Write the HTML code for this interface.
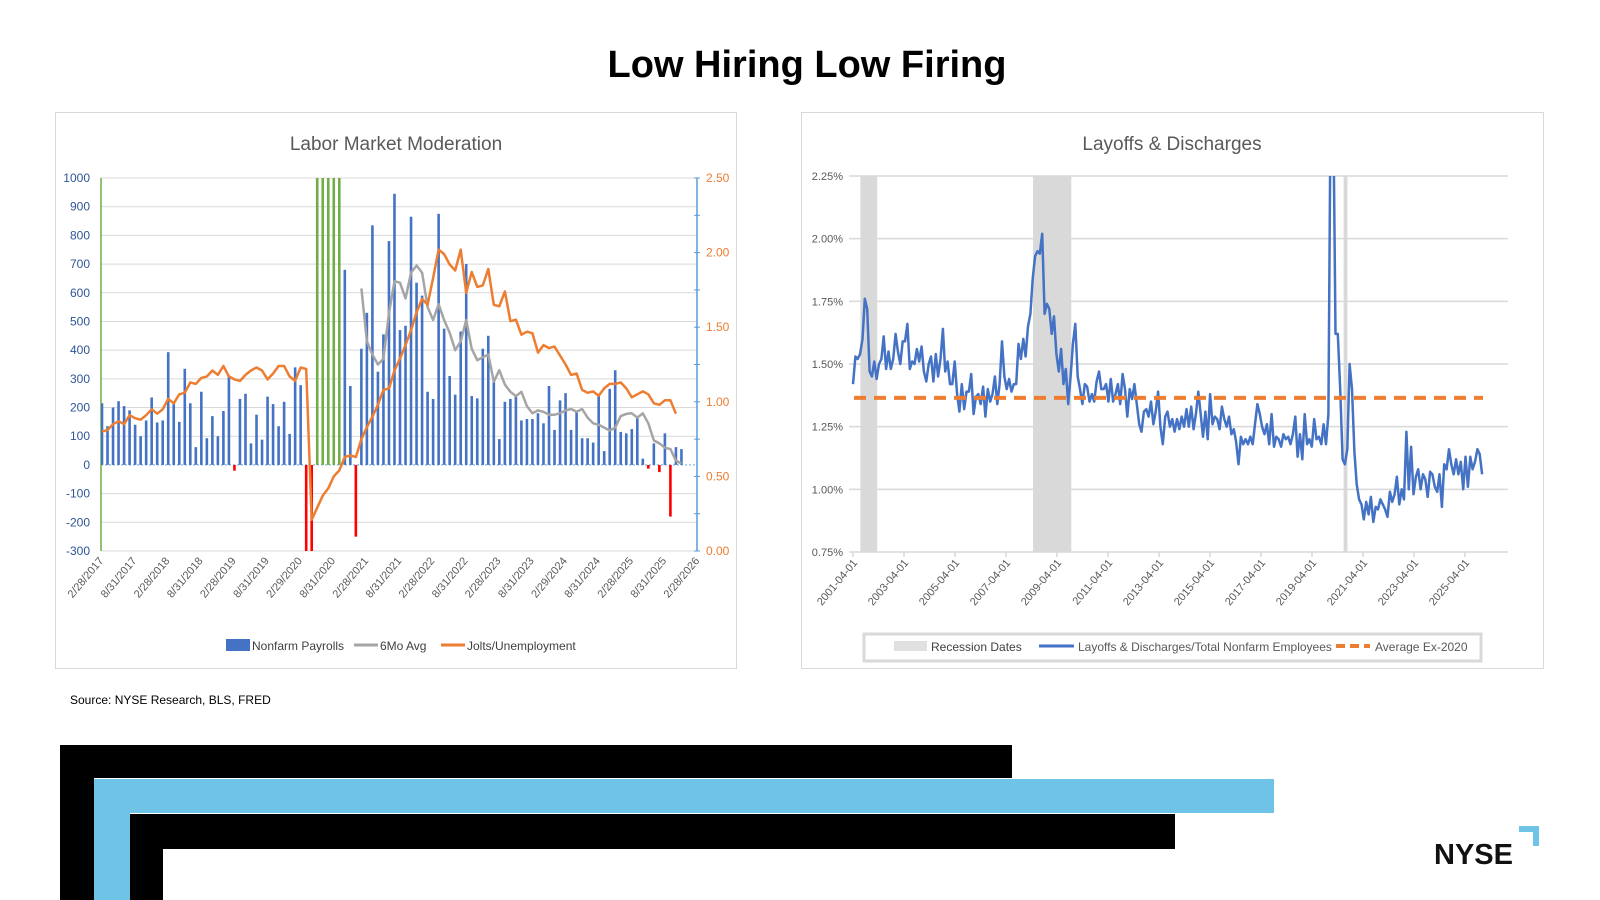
<!DOCTYPE html>
<html><head><meta charset="utf-8"><style>
html,body{margin:0;padding:0;background:#fff;width:1600px;height:900px;overflow:hidden;}
svg{display:block;font-family:"Liberation Sans",sans-serif;}
</style></head><body>
<svg id="root" width="1600" height="900" viewBox="0 0 1600 900" xmlns="http://www.w3.org/2000/svg">
<defs>
<clipPath id="clipL"><rect x="101" y="178" width="596" height="373"/></clipPath>
<clipPath id="clipR"><rect x="849" y="176" width="660" height="376"/></clipPath>
</defs>
<text x="807" y="77" text-anchor="middle" font-size="38" font-weight="bold" fill="#000">Low Hiring Low Firing</text>

<rect x="55.5" y="112.5" width="681" height="556" fill="#fff" stroke="#d9d9d9"/>
<rect x="801.5" y="112.5" width="742" height="556" fill="#fff" stroke="#d9d9d9"/>

<text x="396" y="150" text-anchor="middle" font-size="19" fill="#595959">Labor Market Moderation</text>
<text x="1172" y="150" text-anchor="middle" font-size="19" fill="#595959">Layoffs &amp; Discharges</text>

<g id="leftChart"></g>
<g id="rightChart"></g>

<g>
<rect x="226" y="639" width="24" height="12" fill="#4472C4"/>
<text x="252" y="650" font-size="12" fill="#404040">Nonfarm Payrolls</text>
<line x1="354" y1="645" x2="378" y2="645" stroke="#A5A5A5" stroke-width="3"/>
<text x="380" y="650" font-size="12" fill="#404040">6Mo Avg</text>
<line x1="441" y1="645" x2="465" y2="645" stroke="#ED7D31" stroke-width="3"/>
<text x="467" y="650" font-size="12" fill="#404040">Jolts/Unemployment</text>
</g>
<g>
<rect x="864" y="634" width="617" height="27" fill="#fff" stroke="#d9d9d9" stroke-width="3"/>
<rect x="894" y="641" width="33" height="10" fill="#e0e0e0"/>
<text x="931" y="651" font-size="12" fill="#404040">Recession Dates</text>
<line x1="1039" y1="646" x2="1074" y2="646" stroke="#4472C4" stroke-width="3"/>
<text x="1078" y="651" font-size="12" fill="#595959">Layoffs &amp; Discharges/Total Nonfarm Employees</text>
<line x1="1336" y1="646" x2="1370" y2="646" stroke="#ED7D31" stroke-width="4" stroke-dasharray="9,5"/>
<text x="1375" y="651" font-size="12" fill="#595959">Average Ex-2020</text>
</g>

<text x="70" y="704" font-size="12" fill="#000">Source: NYSE Research, BLS, FRED</text>

<g>
<rect x="60" y="745" width="952" height="33" fill="#000"/>
<rect x="60" y="745" width="34" height="155" fill="#000"/>
<rect x="94" y="779" width="1180" height="34" fill="#6EC3E6"/>
<rect x="94" y="779" width="36" height="121" fill="#6EC3E6"/>
<rect x="130" y="814" width="1045" height="35" fill="#000"/>
<rect x="130" y="814" width="33" height="86" fill="#000"/>
</g>
<g>
<text x="1434" y="864" font-size="29" font-weight="bold" fill="#111">NYSE</text>
<path d="M1519 826 H1539 V846 H1533 V832 H1519 Z" fill="#6EC3E6"/>
</g>
</svg>
<script>
const NS="http://www.w3.org/2000/svg";
const payrollStart = "2017-02";
const payrolls = [215,135,200,222,205,190,140,100,155,235,148,
155,393,220,150,335,215,62,255,93,170,100,188,
310,-20,230,248,75,175,88,238,212,135,220,108,
340,278,-1400,-20000,2700,4500,1700,1500,1100,680,275,-250,
405,530,835,325,455,780,945,470,485,865,635,590,
255,230,875,475,310,245,465,700,240,232,405,450,300,90,220,230,245,155,160,160,180,145,275,122,225,250,122,185,93,93,78,240,48,265,330,115,110,125,165,22,-13,75,-25,110,-180,62,55];
const avgStartIndex = 47;
const sixMoAvg = [615,430,385,350,370,530,640,635,580,670,695,670,550,505,560,505,460,400,430,505,405,365,375,385,290,330,280,255,240,255,205,180,190,185,175,175,180,190,195,185,195,165,145,140,130,120,130,170,178,180,165,180,145,85,75,60,55,15,5];
const joltsRatio = [0.80,0.81,0.85,0.87,0.85,0.91,0.89,0.88,0.91,0.95,0.92,0.95,
1.02,0.99,1.05,1.06,1.13,1.12,1.16,1.17,1.21,1.18,1.24,1.17,
1.15,1.14,1.18,1.21,1.23,1.21,1.15,1.19,1.24,1.24,1.17,1.14,
1.23,1.22,0.21,0.29,0.37,0.42,0.50,0.54,0.63,0.64,0.63,0.75,0.83,0.90,0.98,1.08,1.09,1.21,1.29,1.38,1.48,1.60,1.69,1.65,1.83,2.02,1.99,1.92,1.88,2.02,1.73,1.87,1.77,1.78,1.89,
1.65,1.64,1.74,1.54,1.55,1.45,1.47,1.46,1.33,1.38,1.36,1.37,1.31,1.25,1.18,1.19,1.08,1.06,1.07,1.04,1.09,1.12,1.12,1.13,1.09,1.03,1.05,1.07,1.05,0.99,0.98,1.01,1.01,0.92];
const leftTicks = [-300,-200,-100,0,100,200,300,400,500,600,700,800,900,1000];
const rightTicks = [0,0.5,1.0,1.5,2.0,2.5];
const dateLabels = ["2/28/2017","8/31/2017","2/28/2018","8/31/2018","2/28/2019","8/31/2019","2/29/2020","8/31/2020","2/28/2021","8/31/2021","2/28/2022","8/31/2022","2/28/2023","8/31/2023","2/29/2024","8/31/2024","2/28/2025","8/31/2025","2/28/2026"];

const layoffStartYear = 2001.25;
const layoffEndYear = 2025.92;
const layoffRate = [1.42,1.53,1.52,1.54,1.60,1.76,1.72,1.47,1.45,1.51,1.44,1.50,1.52,1.61,1.48,1.55,1.48,1.52,1.62,1.55,1.50,1.59,1.59,1.66,1.48,1.51,1.50,1.56,1.51,1.57,1.47,1.43,1.50,1.53,1.43,1.54,1.45,1.52,1.64,1.47,1.51,1.42,1.42,1.51,1.38,1.31,1.42,1.32,1.39,1.39,1.46,1.30,1.37,1.38,1.34,1.41,1.29,1.40,1.35,1.38,1.45,1.34,1.42,1.59,1.45,1.40,1.44,1.39,1.42,1.42,1.58,1.52,1.60,1.53,1.65,1.70,1.84,1.93,1.95,1.94,2.02,1.70,1.74,1.72,1.62,1.69,1.54,1.47,1.56,1.42,1.48,1.34,1.45,1.58,1.66,1.45,1.40,1.34,1.42,1.41,1.35,1.38,1.35,1.43,1.47,1.40,1.40,1.42,1.35,1.44,1.35,1.38,1.42,1.34,1.46,1.40,1.29,1.40,1.36,1.42,1.34,1.26,1.23,1.31,1.32,1.29,1.35,1.26,1.31,1.39,1.25,1.18,1.29,1.31,1.25,1.28,1.23,1.28,1.24,1.29,1.25,1.32,1.25,1.33,1.24,1.30,1.39,1.30,1.21,1.31,1.20,1.38,1.26,1.29,1.28,1.24,1.33,1.28,1.25,1.29,1.22,1.24,1.19,1.10,1.21,1.18,1.20,1.18,1.21,1.18,1.26,1.34,1.30,1.25,1.22,1.26,1.18,1.30,1.17,1.21,1.20,1.17,1.22,1.20,1.21,1.18,1.22,1.29,1.13,1.22,1.12,1.30,1.18,1.20,1.17,1.28,1.20,1.21,1.18,1.26,1.18,1.30,2.60,2.60,1.62,1.62,1.40,1.12,1.10,1.16,1.50,1.40,1.15,1.02,0.96,0.94,0.88,0.95,0.90,0.97,0.87,0.93,0.92,0.96,0.94,0.92,0.89,0.99,0.95,0.98,1.05,0.94,1.00,0.96,1.23,1.00,1.17,0.98,1.05,1.08,1.00,1.06,1.04,0.97,1.07,1.06,1.01,0.99,1.06,0.93,1.10,1.08,1.16,1.10,1.06,1.12,1.06,1.11,1.00,1.13,1.01,1.13,1.08,1.11,1.16,1.14,1.06];
const averageEx2020 = 1.365;
const recessionStarts = [2001.54, 2008.31, 2020.49];
const recessionEnds = [2002.2, 2009.81, 2020.64];
const pctTicks = [0.75,1.00,1.25,1.50,1.75,2.00,2.25];
const yearLabels = ["2001-04-01","2003-04-01","2005-04-01","2007-04-01","2009-04-01","2011-04-01","2013-04-01","2015-04-01","2017-04-01","2019-04-01","2021-04-01","2023-04-01","2025-04-01"];

function mk(tag, attrs, parent){const e=document.createElementNS(NS,tag);for(const k in attrs)e.setAttribute(k,attrs[k]);parent.appendChild(e);return e;}

(function(){
const g=document.getElementById('leftChart');
const X0=101,X1=697,YT=178,YB=551;
const xm=m=>X0+1+m*(X1-X0)/108;
const yL=v=>YB-(Math.max(-300,Math.min(1000,v))+300)/1300*(YB-YT);
const yR=v=>YB-Math.max(0,Math.min(2.5,v))/2.5*(YB-YT);
leftTicks.forEach(t=>{
  const l=mk('line',{x1:X0,x2:X1,y1:yL(t),y2:yL(t),stroke:t===0?'#9dc3e6':'#d9d9d9','stroke-width':t===0?1.5:1,'stroke-dasharray':t===0?'2,2':'none'},g);
  
  
  const tx=mk('text',{x:90,y:yL(t)+4,'text-anchor':'end','font-size':12,fill:'#2F5597'},g);
  tx.textContent=t;
  
  
});
rightTicks.forEach(t=>{
  const tx=mk('text',{x:706,y:yR(t)+4,'font-size':12,fill:'#ED7D31'},g);
  tx.textContent=t.toFixed(2);
  
  
});
for(let k=0;k<=10;k++){const v=k*0.25;const tk=mk('line',{x1:X1-3,x2:X1+3,y1:yR(v),y2:yR(v),stroke:'#5B9BD5'},g);
  
  }
const la=mk('line',{x1:X0,x2:X0,y1:YT,y2:YB,stroke:'#70AD47','stroke-width':1.5},g);


const ra=mk('line',{x1:X1,x2:X1,y1:YT,y2:YB,stroke:'#5B9BD5','stroke-width':1.5},g);


const cg=mk('g',{'clip-path':'url(#clipL)'},g);
payrolls.forEach((v,i)=>{
  const col=v>1000?'#70AD47':(v<0?'#FF0000':'#4472C4');
  const y0=yL(0),y1=yL(v);
  const r=mk('rect',{x:xm(i)-1.3,width:2.6,y:Math.min(y0,y1),height:Math.abs(y1-y0),fill:col},cg);
  
  
});
const pg=sixMoAvg.map((v,i)=>xm(i+avgStartIndex).toFixed(1)+','+yL(v).toFixed(1)).join(' ');
const gl=mk('polyline',{points:pg,fill:'none',stroke:'#A5A5A5','stroke-width':2.5,'stroke-linejoin':'round'},cg);


const po=joltsRatio.map((v,i)=>xm(i).toFixed(1)+','+yR(v).toFixed(1)).join(' ');
const ol=mk('polyline',{points:po,fill:'none',stroke:'#ED7D31','stroke-width':2.5,'stroke-linejoin':'round'},cg);


dateLabels.forEach((s,k)=>{
  const x=xm(k*6)+2,y=561;
  const tx=mk('text',{x:x,y:y,'text-anchor':'end','font-size':11,fill:'#595959',transform:`rotate(-50 ${x} ${y})`},g);
  tx.textContent=s;
  
  
});
})();

(function(){
const g=document.getElementById('rightChart');
const X0=849,X1=1508,YT=176,YB=552;
const xy=yr=>853+(yr-2001.25)*25.5;
const yp=p=>YB-(p-0.75)/1.5*(YB-YT);
recessionStarts.forEach((s,k)=>{
  const r=mk('rect',{x:xy(s),y:YT,width:xy(recessionEnds[k])-xy(s),height:YB-YT,fill:'#d9d9d9'},g);
  
  
});
pctTicks.forEach(t=>{
  const l=mk('line',{x1:X0,x2:X1,y1:yp(t),y2:yp(t),stroke:'#d9d9d9','stroke-width':1.5},g);
  
  
  const tx=mk('text',{x:843,y:yp(t)+4,'text-anchor':'end','font-size':11,fill:'#595959'},g);
  tx.textContent=t.toFixed(2)+'%';
  
  
});
yearLabels.forEach((s,k)=>{
  const xt=xy(2001.25+2*k);
  const tk=mk('line',{x1:xt,x2:xt,y1:YB,y2:YB+5,stroke:'#d9d9d9','stroke-width':1.5},g);
  
  
  const x=xt+5,y=563;
  const tx=mk('text',{x:x,y:y,'text-anchor':'end','font-size':11,fill:'#595959',transform:`rotate(-50 ${x} ${y})`},g);
  tx.textContent=s;
  
  
});
const cg=mk('g',{'clip-path':'url(#clipR)'},g);
const step=(layoffEndYear-layoffStartYear)/(layoffRate.length-1);
const pts=layoffRate.map((v,i)=>xy(layoffStartYear+i*step).toFixed(1)+','+yp(v).toFixed(1)).join(' ');
const bl=mk('polyline',{points:pts,fill:'none',stroke:'#4472C4','stroke-width':2.5,'stroke-linejoin':'round'},cg);


const av=mk('line',{x1:854,x2:1483,y1:yp(averageEx2020),y2:yp(averageEx2020),stroke:'#ED7D31','stroke-width':4,'stroke-dasharray':'12,8'},g);


})();
</script>
</body></html>
